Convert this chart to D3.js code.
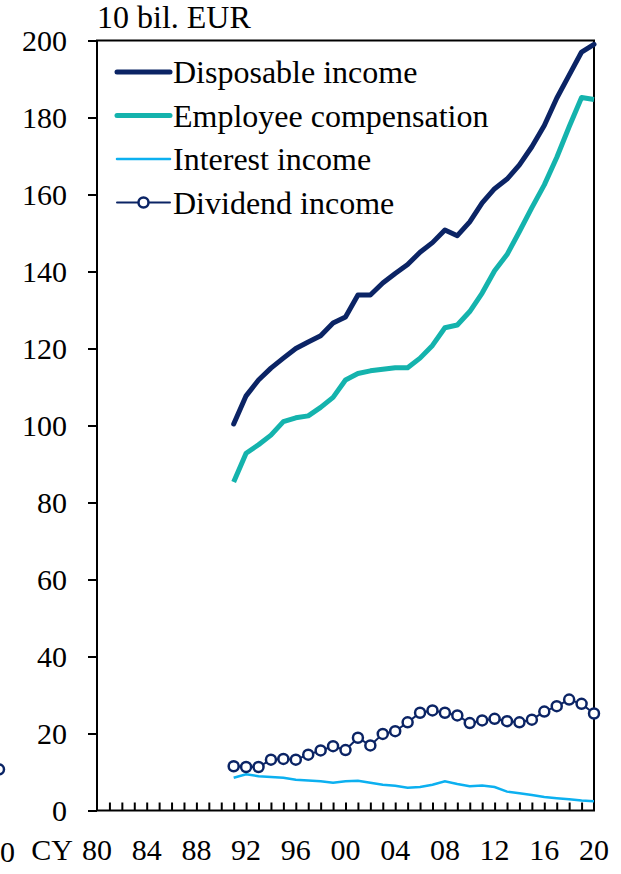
<!DOCTYPE html>
<html>
<head>
<meta charset="utf-8">
<script src="https://cdn.jsdelivr.net/npm/d3@7"></script>
<style>
  body { margin: 0; background: #fff; }
  svg { display: block; }
  svg text { font-family: "Liberation Serif", "Times New Roman", serif; fill: #000; }
</style>
</head>
<body>
<svg width="621" height="874"></svg>
<script>
const YEARS = [];
for (let y = 1991; y <= 2020; y++) YEARS.push(y);

const DISPOSABLE = [100.4, 107.7, 111.8, 114.9, 117.5, 120.0, 121.7, 123.3, 126.6, 128.2,
  133.9, 133.9, 137.0, 139.5, 141.8, 145.0, 147.5, 150.8, 149.3, 152.9,
  157.8, 161.5, 164.0, 167.7, 172.4, 177.9, 185.0, 191.0, 197.0, 199.0];
const EMPLOYEE = [85.3, 92.8, 95.0, 97.5, 101.0, 102.0, 102.5, 104.7, 107.3, 111.8,
  113.5, 114.2, 114.6, 115.0, 115.0, 117.5, 120.8, 125.4, 126.1, 129.6,
  134.4, 140.2, 144.4, 150.4, 156.6, 162.5, 169.6, 177.6, 185.2, 184.7];
const INTEREST = [8.5, 9.4, 8.9, 8.7, 8.5, 8.0, 7.8, 7.6, 7.2, 7.6,
  7.7, 7.2, 6.7, 6.4, 5.9, 6.1, 6.7, 7.6, 6.9, 6.3,
  6.5, 6.1, 4.9, 4.5, 4.0, 3.5, 3.2, 2.9, 2.6, 2.4];
const DIVIDEND = [11.5, 11.3, 11.3, 13.2, 13.4, 13.2, 14.5, 15.6, 16.7, 15.7,
  18.9, 16.9, 19.9, 20.6, 22.9, 25.4, 26.0, 25.4, 24.7, 22.7,
  23.4, 23.8, 23.2, 22.9, 23.6, 25.7, 27.1, 28.8, 27.7, 25.2];

const Y_TICKS = [0, 20, 40, 60, 80, 100, 120, 140, 160, 180, 200];
const X_LABEL_YEARS = [1980, 1984, 1988, 1992, 1996, 2000, 2004, 2008, 2012, 2016, 2020];
const UNIT_LABEL = "10 bil. EUR";
const X_PREFIX = "CY";

const LEGEND = ["Disposable income", "Employee compensation", "Interest income", "Dividend income"];

// edge of the neighbouring panel that is cut off on the left
const NEIGHBOUR_LAST_YEAR = 2020;
const NEIGHBOUR_LAST_DIVIDEND = 10.7;

const NAVY = "#0b2465", TEAL = "#14b3ad", SKY = "#0cb0f0";

const svg = d3.select("svg");
const x = d3.scaleLinear().domain([1980, 2020]).range([97, 594]);
const y = d3.scaleLinear().domain([0, 200]).range([810.5, 40.5]);

// frame
svg.append("rect")
  .attr("x", x(1980)).attr("y", y(200))
  .attr("width", x(2020) - x(1980)).attr("height", y(0) - y(200))
  .attr("fill", "none").attr("stroke", "#000").attr("stroke-width", 2);

// y axis
const yAxis = svg.append("g")
  .attr("transform", "translate(" + x(1980) + ",0)")
  .call(d3.axisLeft(y).tickValues(Y_TICKS).tickSize(9).tickPadding(21));
yAxis.attr("font-family", null).attr("font-size", null);
yAxis.select(".domain").remove();
yAxis.selectAll("line").attr("stroke", "#000").attr("stroke-width", 2);
yAxis.selectAll("text").attr("font-size", 30);

// x axis: inner ticks each year, labels every 4 years
const allYears = d3.range(1981, 2020);
const xAxis = svg.append("g")
  .attr("transform", "translate(0," + y(0) + ")")
  .call(d3.axisBottom(x).tickValues(allYears).tickSize(-8).tickFormat(""));
xAxis.select(".domain").remove();
xAxis.selectAll("line").attr("stroke", "#000").attr("stroke-width", 2);

svg.append("g").selectAll("text")
  .data(X_LABEL_YEARS)
  .join("text")
    .attr("x", d => x(d))
    .attr("y", 860)
    .attr("text-anchor", "middle")
    .attr("font-size", 30)
    .text(d => String(d).slice(2));

svg.append("text")
  .attr("x", 73).attr("y", 860)
  .attr("text-anchor", "end")
  .attr("font-size", 30)
  .text(X_PREFIX);

svg.append("text")
  .attr("x", x(1980)).attr("y", 28)
  .attr("font-size", 32)
  .text(UNIT_LABEL);

// series
const pts = vals => YEARS.map((yr, i) => [yr, vals[i]]);
const line = d3.line().x(d => x(d[0])).y(d => y(d[1]));

svg.append("path").datum(pts(INTEREST))
  .attr("d", line).attr("fill", "none").attr("stroke", SKY).attr("stroke-width", 2.5);

svg.append("path").datum(pts(DIVIDEND))
  .attr("d", line).attr("fill", "none").attr("stroke", NAVY).attr("stroke-width", 2);
svg.append("g").selectAll("circle")
  .data(pts(DIVIDEND))
  .join("circle")
    .attr("cx", d => x(d[0])).attr("cy", d => y(d[1])).attr("r", 5)
    .attr("fill", "#fff").attr("stroke", NAVY).attr("stroke-width", 2.5);

svg.append("path").datum(pts(EMPLOYEE))
  .attr("d", line).attr("fill", "none").attr("stroke", TEAL).attr("stroke-width", 5)
  .attr("stroke-linejoin", "round");
svg.append("path").datum(pts(DISPOSABLE))
  .attr("d", line).attr("fill", "none").attr("stroke", NAVY).attr("stroke-width", 5)
  .attr("stroke-linejoin", "round").attr("stroke-linecap", "round");

// legend
const legendStyle = [
  {color: NAVY, width: 5, marker: false},
  {color: TEAL, width: 5, marker: false},
  {color: SKY, width: 2.5, marker: false},
  {color: NAVY, width: 2, marker: true}
];
const lg = svg.append("g").selectAll("g")
  .data(LEGEND)
  .join("g")
    .attr("transform", (d, i) => "translate(117," + (72 + i * 43.5) + ")");
lg.append("line")
  .attr("x1", 0).attr("x2", 53)
  .attr("stroke", (d, i) => legendStyle[i].color)
  .attr("stroke-width", (d, i) => legendStyle[i].width)
  .attr("stroke-linecap", "round");
lg.filter((d, i) => legendStyle[i].marker)
  .append("circle")
    .attr("cx", 26.5).attr("r", 5)
    .attr("fill", "#fff").attr("stroke", NAVY).attr("stroke-width", 2.5);
lg.append("text")
  .attr("x", 56).attr("dy", "0.35em")
  .attr("font-size", 32)
  .text(d => d);

// clipped remains of the panel to the left
const xPrev = d3.scaleLinear().domain([1980, 2020]).range([-497, 0]);
svg.append("circle")
  .attr("cx", xPrev(NEIGHBOUR_LAST_YEAR) - 1).attr("cy", y(NEIGHBOUR_LAST_DIVIDEND)).attr("r", 5)
  .attr("fill", "#fff").attr("stroke", NAVY).attr("stroke-width", 2.5);
svg.append("text")
  .attr("x", xPrev(NEIGHBOUR_LAST_YEAR)).attr("y", 862)
  .attr("text-anchor", "middle")
  .attr("font-size", 30)
  .text(String(NEIGHBOUR_LAST_YEAR).slice(2));
</script>
</body>
</html>
